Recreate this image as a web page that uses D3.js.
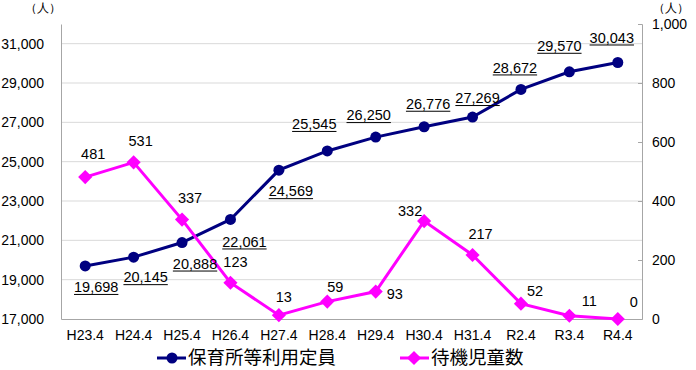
<!DOCTYPE html>
<html>
<head>
<meta charset="utf-8">
<script src="https://cdn.jsdelivr.net/npm/d3@7"></script>
<style>
  body { margin: 0; background: #fff; }
  svg text { font-family: "Liberation Sans", Arial, sans-serif; fill: #000; }
</style>
</head>
<body>
<svg id="chart" width="696" height="370"></svg>
<script>
var categories = ['H23.4','H24.4','H25.4','H26.4','H27.4','H28.4','H29.4','H30.4','H31.4','R2.4','R3.4','R4.4'];
var capacity = [19698, 20145, 20888, 22061, 24569, 25545, 26250, 26776, 27269, 28672, 29570, 30043];
var waiting = [481, 531, 337, 123, 13, 59, 93, 332, 217, 52, 11, 0];
var leftTicks = [17000, 19000, 21000, 23000, 25000, 27000, 29000, 31000];
var rightTicks = [0, 200, 400, 600, 800, 1000];
var seriesNames = ['保育所等利用定員', '待機児童数'];

var blue = '#000080';
var pink = '#ff00ff';

// label offsets from their point (px)
var capOff = [[11,21],[12,20],[13,21],[14,22],[12,21],[-13,-27],[-7,-22],[4,-23],[5,-19],[-6,-22],[-10,-26],[-6,-25]];
var waitOff = [[8,-23],[7,-21],[8,-22],[5,-21],[5,-18],[8,-15],[19,2],[-14,-10],[8,-21],[14,-13],[20,-15],[16,-17]];

var L = 61, R = 642, T = 24, B = 319;
var svg = d3.select('#chart');

var x = d3.scaleBand().domain(categories).range([L, R]);
var yL = d3.scaleLinear().domain([17000, 32000]).range([B, T]);
var yR = d3.scaleLinear().domain([0, 1000]).range([B, T]);
var cx = d => x(d) + x.bandwidth() / 2;
var fmt = d3.format(',');
var diamondPath = d3.symbol().type(d3.symbolSquare).size(100)();

// gridlines
svg.append('g').selectAll('line')
  .data(leftTicks.slice(1))
  .join('line')
  .attr('x1', L).attr('x2', R)
  .attr('y1', d => yL(d)).attr('y2', d => yL(d))
  .attr('stroke', '#d9d9d9').attr('stroke-width', 1);

// left axis
var gl = svg.append('g').attr('transform', 'translate(' + L + ',0)')
  .call(d3.axisLeft(yL).tickValues(leftTicks).tickSize(0).tickPadding(17).tickFormat(fmt));
gl.select('.domain').attr('stroke', '#a6a6a6');
gl.selectAll('text').style('font-size', '14px');

// right axis
var gr = svg.append('g').attr('transform', 'translate(' + R + ',0)')
  .call(d3.axisRight(yR).tickValues(rightTicks).tickSize(-4).tickPadding(10).tickFormat(fmt));
gr.select('.domain').attr('stroke', '#a6a6a6');
gr.selectAll('.tick line').attr('stroke', '#a6a6a6');
gr.selectAll('text').style('font-size', '14px');

// bottom axis
var gb = svg.append('g').attr('transform', 'translate(0,' + B + ')')
  .call(d3.axisBottom(x).tickSize(0).tickPadding(11));
gb.select('.domain').attr('stroke', '#a6a6a6');
gb.selectAll('text').style('font-size', '14px');

// unit labels
svg.append('text').attr('x', 43).attr('y', 12).attr('text-anchor', 'middle')
  .style('font-size', '11.5px').text('（人）');
svg.append('text').attr('x', 671).attr('y', 12).attr('text-anchor', 'middle')
  .style('font-size', '11.5px').text('（人）');

// capacity line
svg.append('path')
  .datum(capacity)
  .attr('fill', 'none').attr('stroke', blue).attr('stroke-width', 3)
  .attr('d', d3.line().x((d, i) => cx(categories[i])).y(d => yL(d)));
svg.append('g').selectAll('circle')
  .data(capacity)
  .join('circle')
  .attr('cx', (d, i) => cx(categories[i])).attr('cy', d => yL(d))
  .attr('r', 5.5).attr('fill', blue);

// waiting line
svg.append('path')
  .datum(waiting)
  .attr('fill', 'none').attr('stroke', pink).attr('stroke-width', 3)
  .attr('d', d3.line().x((d, i) => cx(categories[i])).y(d => yR(d)));
svg.append('g').selectAll('path')
  .data(waiting)
  .join('path')
  .attr('transform', (d, i) => 'translate(' + cx(categories[i]) + ',' + yR(d) + ') rotate(45)')
  .attr('d', diamondPath)
  .attr('fill', pink);

// capacity labels, underlined
var capLab = svg.append('g').selectAll('g')
  .data(capacity)
  .join('g')
  .attr('transform', (d, i) => 'translate(' + (cx(categories[i]) + capOff[i][0]) + ',' + (yL(d) + capOff[i][1]) + ')');
capLab.append('text')
  .attr('text-anchor', 'middle').attr('dy', '0.35em')
  .style('font-size', '14.5px')
  .text(d => fmt(d));
capLab.each(function () {
  var g = d3.select(this);
  var w = g.select('text').node().getComputedTextLength();
  g.append('line').attr('x1', -w / 2).attr('x2', w / 2)
    .attr('y1', 7.5).attr('y2', 7.5)
    .attr('stroke', '#000').attr('stroke-width', 1);
});

// waiting labels
svg.append('g').selectAll('text')
  .data(waiting)
  .join('text')
  .attr('x', (d, i) => cx(categories[i]) + waitOff[i][0])
  .attr('y', (d, i) => yR(d) + waitOff[i][1])
  .attr('text-anchor', 'middle').attr('dy', '0.35em')
  .style('font-size', '14.5px')
  .text(d => fmt(d));

// legend
var lg = svg.append('g').attr('transform', 'translate(0,358)');
lg.append('line').attr('x1', 157).attr('x2', 186).attr('stroke', blue).attr('stroke-width', 3);
lg.append('circle').attr('cx', 172).attr('r', 5.5).attr('fill', blue);
lg.append('text').attr('x', 188).attr('dy', '0.35em').style('font-size', '18.5px')
  .style('font-family', '"Noto Sans CJK JP", sans-serif').text(seriesNames[0]);
lg.append('line').attr('x1', 400).attr('x2', 429).attr('stroke', pink).attr('stroke-width', 3);
lg.append('path').attr('transform', 'translate(414,0) rotate(45)')
  .attr('d', diamondPath).attr('fill', pink);
lg.append('text').attr('x', 431).attr('dy', '0.35em').style('font-size', '18.5px')
  .style('font-family', '"Noto Sans CJK JP", sans-serif').text(seriesNames[1]);
</script>
</body>
</html>
